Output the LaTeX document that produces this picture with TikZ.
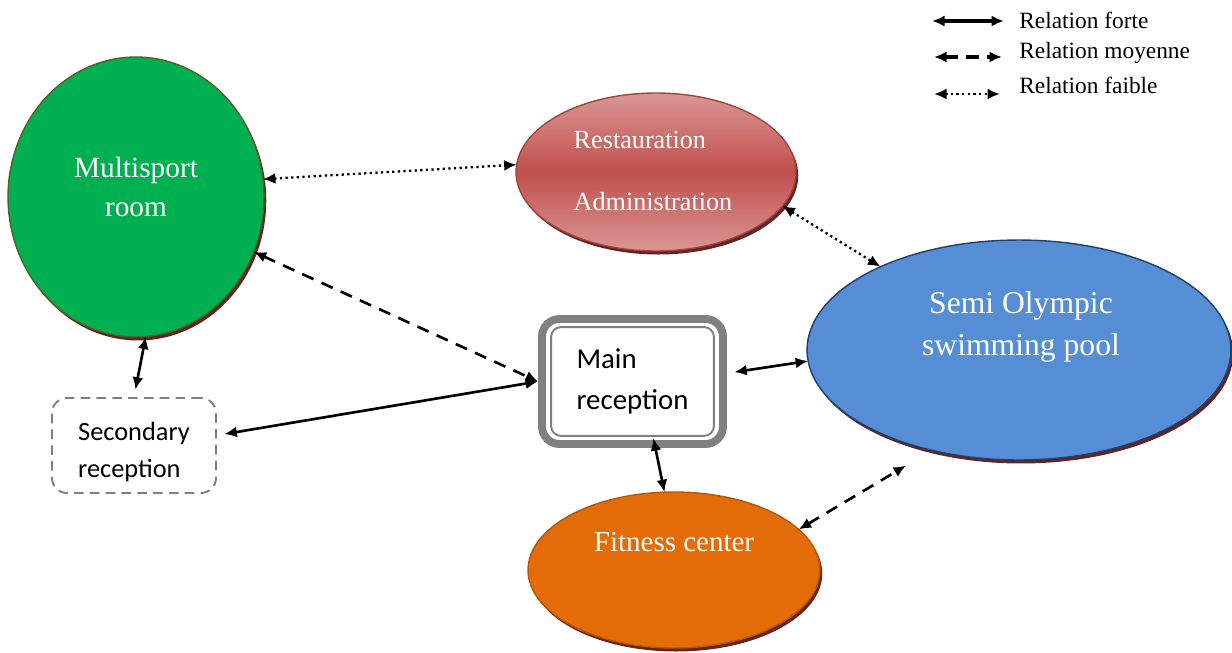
\documentclass[tikz,border=0pt]{standalone}
\usepackage{fontspec}
\setmainfont{Liberation Serif}
\newfontfamily\boxfont{Carlito}
\usepackage{xcolor}
\usepackage{tikz}
\usetikzlibrary{arrows.meta}
\usetikzlibrary{shapes.geometric, calc}
\definecolor{sportgreen}{HTML}{00B050}
\definecolor{sportborder}{HTML}{4F6228}
\definecolor{restred}{HTML}{C0504D}
\definecolor{restlight}{HTML}{DA9694}
\definecolor{poolblue}{HTML}{558ED5}
\definecolor{poolborder}{HTML}{1F3F6F}
\definecolor{fitorange}{HTML}{E36C09}
\definecolor{shadowred}{HTML}{632523}
\definecolor{boxgray}{HTML}{808080}
\tikzset{
  zone/.style={ellipse, inner sep=0pt, outer sep=0pt, line width=0.8pt,
    preaction={fill=shadowred, transform canvas={xshift=1.3pt, yshift=-2pt}}},
  zonetext/.style={text=white, inner sep=0pt},
  strongrel/.style={line width=1.5pt, {Latex[length=2.5mm,width=2.2mm]}-{Latex[length=2.5mm,width=2.2mm]}},
  mediumrel/.style={strongrel, dash pattern=on 7pt off 5pt},
  weakrel/.style={strongrel, line width=1.3pt, dash pattern=on 1.3pt off 1.9pt},
  legendtext/.style={inner sep=0pt, anchor=west, font=\fontsize{13.3}{16}\selectfont}
}
\begin{document}
\begin{tikzpicture}[x=0.02cm, y=-0.02cm]
    \useasboundingbox (0,0) rectangle (1232,653);
    % zones
    \node[zone, draw=sportborder, fill=sportgreen, minimum width=5.12cm, minimum height=5.6cm] (multi) at (136,197) {};
    \node[zone, draw=restred!85!black, top color=restlight, bottom color=restlight, middle color=restred, minimum width=5.6cm, minimum height=3.16cm] (restaur) at (656,172) {};
    \node[zone, draw=poolborder, fill=poolblue, minimum width=8.48cm, minimum height=4.4cm] (semi) at (1019,350) {};
    \node[zone, draw=fitorange!80!black, fill=fitorange, minimum width=5.84cm, minimum height=3.12cm] (fitness) at (674,570) {};
    \node[zonetext, align=center, font=\fontsize{16.7}{22.7}\selectfont] (multitext) at (136,187) {Multisport\\room};
    \node[zonetext, align=left, font=\fontsize{14.9}{35}\selectfont] (restaurtext) at (653,171) {Restauration\\Administration};
    \node[zonetext, align=center, font=\fontsize{18}{23.8}\selectfont] (semitext) at (1021,327) {Semi Olympic\\swimming pool};
    \node[zonetext, font=\fontsize{16.5}{20}\selectfont] (fitnesstext) at (674,542) {Fitness center};
    % receptions
    \node[draw=boxgray, line width=4.5pt, rounded corners=0.35cm, minimum width=3.62cm, minimum height=2.5cm, align=left, font=\boxfont\fontsize{16.4}{23.2}\selectfont] (mainrec) at (632.5,381.5) {Main\\reception};
    \draw[boxgray, line width=1.1pt, rounded corners=0.2cm] ($(mainrec.south west)+(13,-12)$) rectangle ($(mainrec.north east)+(-13,12)$);
    \node[draw=boxgray, dash pattern=on 5.5pt off 3.5pt, line width=1.1pt, rounded corners=0.3cm, minimum width=3.28cm, minimum height=1.9cm] (secrec) at (134,445.5) {};
    \node[align=left, inner sep=0pt, font=\boxfont\fontsize{15}{21}\selectfont] (sectext) at (134,452) {Secondary\\reception};
    % relations
    \draw[weakrel] (multi.8) -- (restaur.177);
    \draw[mediumrel] (multi.-25) -- (mainrec.west);
    \draw[strongrel, shorten >=0.15cm] (multi.-86) -- (secrec.north);
    \draw[strongrel, shorten <=0.15cm] (secrec.7) -- (mainrec.west);
    \draw[strongrel, shorten <=0.15cm] (mainrec.5) -- (semi.183);
    \draw[strongrel, shorten <=-0.2cm] (mainrec.-71) -- (fitness.97);
    \draw[weakrel] (restaur.-15) -- (semi.149);
    \draw[mediumrel, shorten >=0.6cm] (fitness.18) -- (semi.229);
    % legend
    \node[legendtext] (forte) at (1019,20) {Relation forte};
    \node[legendtext] (moyenne) at (1019,53) {Relation moyenne};
    \node[legendtext] (faible) at (1019,85) {Relation faible};
    \draw[strongrel, line width=1.8pt] ($(forte.west)+(-87,1)$) -- ($(forte.west)+(-15,1)$);
    \draw[mediumrel, line width=1.8pt] ($(moyenne.west)+(-85,4)$) -- ($(moyenne.west)+(-17,4)$);
    \draw[weakrel, line width=1.6pt] ($(faible.west)+(-85,9)$) -- ($(faible.west)+(-19,9)$);
\end{tikzpicture}
\end{document}
